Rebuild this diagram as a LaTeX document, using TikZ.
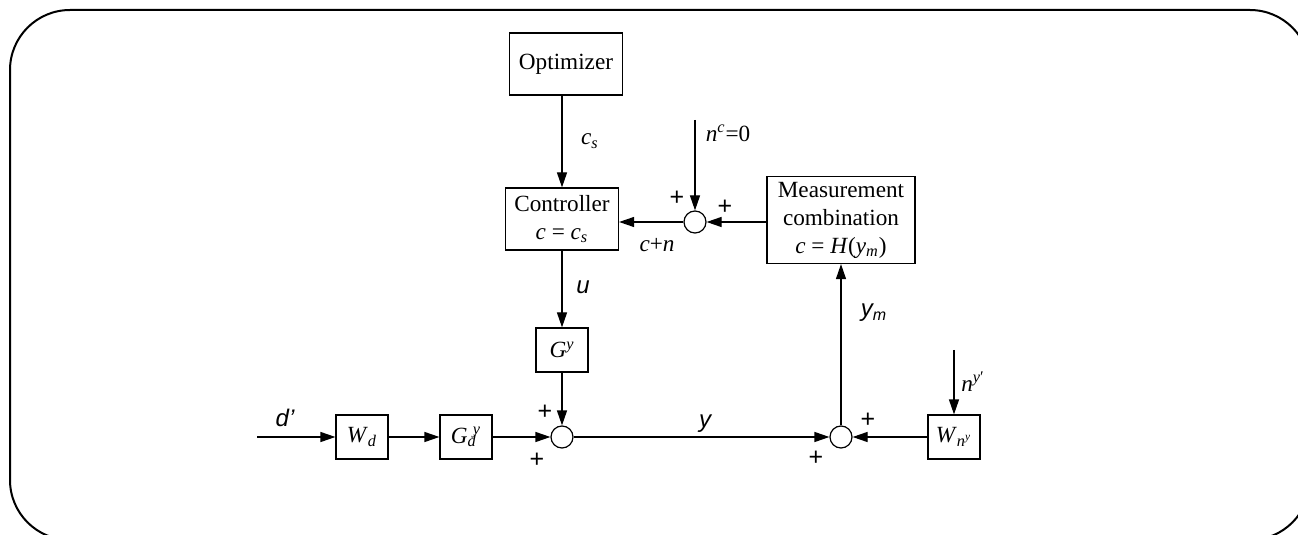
\documentclass[tikz,border=0pt]{standalone}
\usepackage{fontspec}
\setmainfont{Liberation Serif}
\setsansfont{Liberation Sans}
\usetikzlibrary{arrows.meta}

\begin{document}
\begin{tikzpicture}[x=0.5pt, y=-0.5pt, line width=0.6pt,
    font=\fontsize{11.6}{14}\selectfont,
    blk/.style={draw, align=center, inner sep=0pt},
    bigblk/.style={blk, minimum width=56.5pt, minimum height=31pt},
    smallblk/.style={blk, minimum width=26pt, minimum height=22pt},
    sumc/.style={draw, circle, minimum size=11pt, inner sep=0pt},
    arr/.style={-{Triangle[length=7.5pt, width=5pt]}},
    sig/.style={font=\fontsize{12}{13}\selectfont\sffamily\itshape},
    pls/.style={font=\fontsize{12.5}{13}\selectfont\sffamily}]
    \useasboundingbox (0,0) rectangle (1298,535);
    \clip (0,0) rectangle (1298,535);
    \draw[line width=1pt, rounded corners=30pt] (10,10) rectangle (1310,540);

    % Blocks
    \node[bigblk] (opt) at (566,64) {Optimizer};
    \node[bigblk] (ctrl) at (562,219) {Controller\\\textit{c} = \textit{c}\textsubscript{\textit{s}}};
    \node[blk, minimum width=74pt, minimum height=43.5pt] (meas) at (841,220)
        {Measurement\\combination\\\textit{c} = \textit{H}(\textit{y}\textsubscript{\textit{m}})};
    \node[smallblk] (gy) at (562,350) {\textit{G}\textsuperscript{\textit{y}}};
    \node[smallblk] (wd) at (362,437) {\textit{W}\textsubscript{\textit{d}}};
    \node[smallblk] (gd) at (466,437) {\textit{G}\textsubscript{\textit{d}}\kern-2pt\textsuperscript{\textit{y}}};
    \node[smallblk] (wn) at (954,437) {\textit{W}\textsubscript{\textit{n}\textsuperscript{\textit{y}}}};

    % Summing junctions
    \node[sumc] (s1) at (695,222) {};
    \node[sumc] (s3) at (562,437) {};
    \node[sumc] (s2) at (841,437) {};

    % Free inputs
    \coordinate (nc) at (695,120);
    \coordinate (din) at (257,437);
    \coordinate (ny) at (954,350);

    % Signals
    \draw[arr] (opt.south -| ctrl) -- (ctrl.north);
    \draw[arr] (nc) -- (s1.north);
    \draw[arr] (meas.west |- s1) -- (s1.east);
    \draw[arr] (s1.west) -- (ctrl.east |- s1);
    \draw[arr] (ctrl.south) -- (gy.north);
    \draw[arr] (gy.south) -- (s3.north);
    \draw[arr] (din) -- (wd.west);
    \draw[arr] (wd.east) -- (gd.west);
    \draw[arr] (gd.east) -- (s3.west);
    \draw[arr] (s3.east) -- (s2.west);
    \draw[arr] (s2.north) -- (meas.south);
    \draw[arr] (ny) -- (wn.north);
    \draw[arr] (wn.west) -- (s2.east);

    % Labels
    \node (lcs) at (590,141) {\textit{c}\textsubscript{\textit{s}}};
    \node (lnc) at (728,133) {\textit{n}\textsuperscript{\textit{c}}=0};
    \node (lcn) at (657,245) {\textit{c}+\textit{n}};
    \node (lny) at (973,382) {\textit{n}\textsuperscript{\textit{y}′}};
    \node[sig] (lu) at (583,287) {u};
    \node[sig] (lym) at (874,313) {y\textsubscript{m}};
    \node[sig] (ly) at (705,424) {y};
    \node[sig] (ld) at (285,418) {d’};

    % Signs
    \node[pls] (p1) at (677,198) {+};
    \node[pls] (p2) at (725,207) {+};
    \node[pls] (p3) at (545,412) {+};
    \node[pls] (p4) at (537,460) {+};
    \node[pls] (p5) at (868,420) {+};
    \node[pls] (p6) at (816,458) {+};
\end{tikzpicture}
\end{document}
